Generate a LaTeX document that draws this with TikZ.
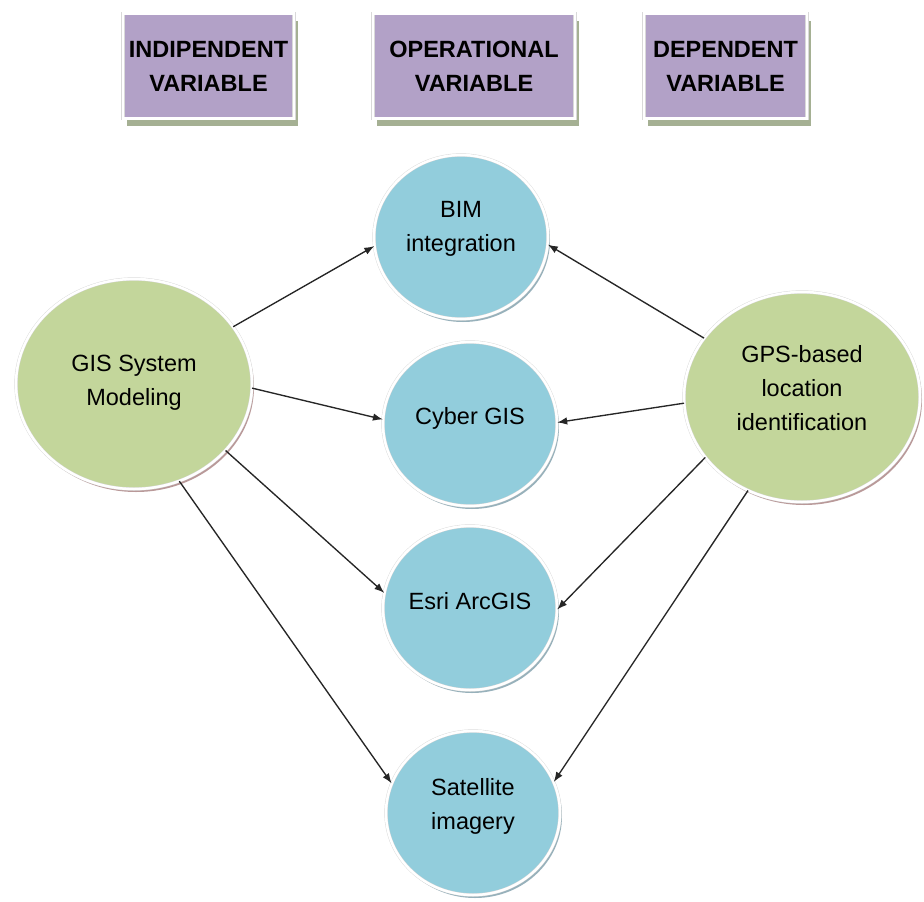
\documentclass[tikz,border=0pt]{standalone}
\usepackage{fontspec}
\setmainfont{Liberation Sans}
\usetikzlibrary{shapes.geometric,shadows,arrows.meta}
\definecolor{gfill}{HTML}{C3D69B}
\definecolor{bfill}{HTML}{92CDDC}
\definecolor{pfill}{HTML}{B2A1C7}
\definecolor{gshad}{HTML}{A88080}
\definecolor{bshad}{HTML}{7E9EAA}
\definecolor{pshad}{HTML}{9CA888}
\begin{document}
\begin{tikzpicture}[x=1pt,y=-1pt,
  txt/.style={font=\fontsize{23.5}{34}\selectfont, align=center, inner sep=0pt},
  hdr/.style={rectangle, fill=pfill, draw=gray!30, double=white, double distance=2.5pt,
    line width=0.4pt, minimum height=105pt, inner sep=0pt,
    font=\fontsize{23.5}{34}\selectfont\bfseries, align=center,
    drop shadow={shadow xshift=4pt, shadow yshift=-7pt, fill=pshad, opacity=0.9}},
  bc/.style={ellipse, fill=bfill, draw=gray!30, double=white, double distance=2.5pt,
    line width=0.4pt, minimum width=174pt, minimum height=164pt, inner sep=0pt,
    drop shadow={shadow xshift=2pt, shadow yshift=-3pt, fill=bshad, opacity=0.8}},
  gc/.style={ellipse, fill=gfill, draw=gray!30, double=white, double distance=2.5pt,
    line width=0.4pt, minimum width=236pt, minimum height=210pt, inner sep=0pt,
    drop shadow={shadow xshift=2pt, shadow yshift=-3pt, fill=gshad, opacity=0.8}},
  arr/.style={-{Latex[length=10pt,width=7.5pt]}, line width=1.35pt, draw=black!85}
]
\useasboundingbox[fill=white] (0,0) rectangle (924,902);

% header boxes
\node[hdr, minimum width=171pt] (h1) at (208.5,66) {INDIPENDENT\\VARIABLE};
\node[hdr, minimum width=202pt] (h2) at (474,66) {OPERATIONAL\\VARIABLE};
\node[hdr, minimum width=163pt] (h3) at (725.5,66) {DEPENDENT\\VARIABLE};

% green circles
\node[gc, label={[txt, yshift=1pt]center:GIS System\\Modeling}] (gis) at (134,384) {};
\node[gc, label={[txt, yshift=9pt]center:GPS-based\\location\\identification}] (gps) at (802,397) {};

% blue circles
\node[bc, label={[txt, yshift=8pt]center:BIM\\integration}] (bim) at (461,237) {};
\node[bc, label={[txt, yshift=6pt]center:Cyber GIS}] (cyb) at (470,424) {};
\node[bc, label={[txt, yshift=7pt]center:Esri ArcGIS}] (esri) at (470,608) {};
\node[bc, label={[txt, yshift=7pt]center:Satellite\\imagery}] (sat) at (473,813) {};

% connectors
\draw[arr] (gis.30)  -- (bim.186);
\draw[arr] (gis.358) -- (cyb.177);
\draw[arr] (gis.324) -- (esri.170);
\draw[arr] (gis.295) -- (sat.160);
\draw[arr] (gps.149) -- (bim.355);
\draw[arr] (gps.183) -- (cyb.1);
\draw[arr] (gps.212) -- (esri.359);
\draw[arr] (gps.240) -- (sat.21);
\end{tikzpicture}
\end{document}
